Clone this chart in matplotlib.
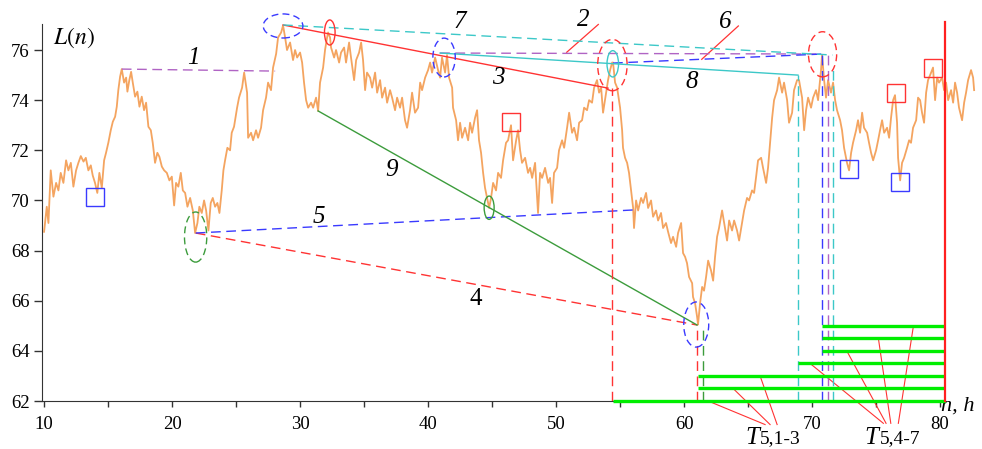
import matplotlib
matplotlib.use("Agg")
import matplotlib.pyplot as plt
from matplotlib.patches import Ellipse

# level L(n), hours n
n_hours = [
    10.0, 10.21, 10.34, 10.52, 10.73, 10.94, 11.12, 11.30, 11.51, 11.72,
    11.90, 12.09, 12.29, 12.50, 12.68, 12.87, 13.08, 13.26, 13.46, 13.65,
    13.80, 13.98, 14.16, 14.32, 14.51, 14.69, 14.84, 15.02, 15.21, 15.37,
    15.55, 15.68, 15.80, 15.94, 16.07, 16.25, 16.41, 16.51, 16.66, 16.80,
    16.93, 17.11, 17.29, 17.45, 17.63, 17.81, 17.97, 18.15, 18.34, 18.49,
    18.67, 18.85, 19.01, 19.20, 19.38, 19.59, 19.79, 19.98, 20.16, 20.31,
    20.49, 20.68, 20.84, 21.02, 21.20, 21.41, 21.62, 21.80, 21.98, 22.13,
    22.32, 22.50, 22.66, 22.84, 23.02, 23.18, 23.36, 23.54, 23.70, 23.88,
    24.01, 24.14, 24.32, 24.53, 24.66, 24.84,
    25.08, 25.23, 25.47, 25.63, 25.86, 25.94, 26.17, 26.33, 26.56, 26.72,
    26.95, 27.11, 27.34, 27.50, 27.73, 27.89, 28.13, 28.28, 28.52, 28.67,
    28.83, 28.98, 29.22, 29.45, 29.61, 29.77, 30.00, 30.16, 30.31, 30.47,
    30.63, 30.86, 31.02, 31.25, 31.41, 31.56, 31.80, 31.95, 32.11,
    32.19, 32.34, 32.42, 32.66, 32.81, 33.05, 33.20, 33.44, 33.59, 33.83,
    33.98, 34.22, 34.38, 34.61, 34.77, 34.92, 35.08, 35.23, 35.47, 35.63,
    35.86, 36.02, 36.25, 36.41, 36.64, 36.80, 37.03, 37.19, 37.42, 37.58,
    37.81, 37.97, 38.20, 38.36, 38.59, 38.75,
    38.98, 39.22, 39.38, 39.53, 39.77, 40.00, 40.16, 40.31, 40.55, 40.78,
    40.94, 41.09, 41.33, 41.48, 41.64, 41.88, 41.95, 42.19, 42.34, 42.50,
    42.66, 42.89, 43.13, 43.28, 43.44, 43.67, 43.83, 43.98, 44.14, 44.30,
    44.45, 44.61, 44.77, 44.92, 45.08, 45.31, 45.47, 45.70, 45.86, 46.09,
    46.25, 46.48, 46.64, 46.88, 47.03, 47.19, 47.34, 47.58, 47.81, 47.97,
    48.13, 48.36, 48.59, 48.75, 48.91, 49.14, 49.38, 49.53, 49.69, 49.84,
    50.08, 50.23, 50.47, 50.63, 50.86, 51.02, 51.25, 51.41, 51.64, 51.80,
    52.03, 52.19, 52.42, 52.58, 52.81, 52.97, 53.20, 53.36, 53.52, 53.67,
    53.91, 54.06, 54.22, 54.38,
    54.45, 54.61, 54.77, 55.00, 55.16, 55.23, 55.39, 55.55, 55.70, 55.86,
    56.02, 56.09, 56.25, 56.41, 56.64, 56.80, 57.03, 57.19, 57.42, 57.58,
    57.81, 57.97, 58.20, 58.36, 58.59, 58.75, 58.98, 59.14, 59.38, 59.53,
    59.77, 59.92, 60.08, 60.23, 60.39, 60.63, 60.70, 60.86, 61.02, 61.09,
    61.25, 61.41, 61.56, 61.72, 61.88, 62.11, 62.27, 62.42, 62.58, 62.73,
    62.97, 63.13, 63.36, 63.52, 63.75, 63.91, 64.14, 64.30, 64.53, 64.69,
    64.92, 65.08, 65.31, 65.47, 65.63, 65.78, 66.02, 66.17, 66.41, 66.56,
    66.72, 66.88, 67.03, 67.27, 67.42, 67.66, 67.81, 68.05, 68.20, 68.44,
    68.59, 68.83,
    68.98, 69.22, 69.38, 69.53, 69.69, 69.92, 70.08, 70.31, 70.47, 70.70,
    70.78, 70.94, 71.09, 71.25, 71.48, 71.64, 71.80, 71.95, 72.19, 72.34,
    72.50, 72.73, 72.89, 73.05, 73.20, 73.44, 73.59, 73.75, 73.91, 74.06,
    74.30, 74.45, 74.61, 74.77, 75.00, 75.16, 75.31, 75.47, 75.63, 75.86,
    76.02, 76.17, 76.33, 76.48, 76.64, 76.72, 76.88, 77.03, 77.19, 77.42,
    77.58, 77.73, 77.89, 78.13, 78.28, 78.44, 78.59, 78.75, 78.91, 79.06,
    79.30, 79.45, 79.61, 79.77, 79.92, 80.16, 80.31, 80.47, 80.63, 80.86,
    81.02, 81.17, 81.33, 81.48, 81.72, 81.88, 82.03, 82.19, 82.42, 82.58,
    82.66,
]
level = [
    68.75, 69.75, 69.1, 71.2, 70.15, 70.7, 70.4, 71.1, 70.7, 71.6,
    71.2, 71.5, 70.55, 71.2, 71.5, 71.77, 71.55, 71.7, 71.2, 71.4,
    71.0, 70.7, 70.3, 71.1, 70.5, 71.6, 71.9, 72.3, 72.8, 73.14,
    73.34, 73.74, 74.4, 74.94, 75.24, 74.7, 74.9, 74.34, 74.8, 75.13,
    74.7, 74.14, 74.34, 73.74, 74.14, 73.6, 73.9, 72.94, 72.8, 72.3,
    71.5, 71.9, 71.74, 71.35, 71.2, 71.1, 70.8, 70.95, 69.8, 70.7,
    70.55, 71.1, 70.4, 70.3, 69.75, 70.1, 69.6, 68.7, 69.1, 69.75,
    69.5, 70.0, 69.6, 68.8, 69.9, 70.1, 69.75, 69.9, 69.5, 70.4,
    71.2, 71.6, 72.1, 72.0, 72.7, 72.94,
    73.7, 74.1, 74.5, 75.1, 74.3, 72.5, 72.7, 72.4, 72.8, 72.5,
    72.9, 73.6, 74.1, 74.7, 74.4, 75.3, 75.85, 76.5, 76.7, 76.98,
    76.5, 76.0, 76.3, 75.6, 76.0, 75.7, 75.9, 75.5, 74.7, 74.0,
    73.7, 73.9, 73.7, 74.1, 73.57, 74.7, 75.3, 76.0, 76.5,
    76.7, 76.5, 76.1, 75.7, 76.0, 75.5, 75.9, 76.1, 75.5, 76.3,
    75.7, 74.8, 75.6, 75.9, 76.3, 75.6, 74.4, 75.1, 74.9, 74.5,
    75.1, 74.3, 74.8, 74.1, 74.5, 73.9, 74.4, 74.1, 73.6, 74.1,
    73.7, 74.1, 73.2, 72.9, 73.6, 74.3,
    73.5, 73.7, 74.7, 74.4, 74.9, 75.2, 75.5, 75.1, 75.7, 75.2,
    74.9, 75.7, 75.1, 75.8, 74.9, 74.5, 73.7, 73.2, 72.4, 73.1,
    72.5, 72.9, 72.4, 73.1, 72.7, 73.3, 73.6, 72.4, 71.9, 71.1,
    70.5, 70.1, 69.7, 70.1, 70.7, 70.4, 71.1, 70.9, 71.6, 72.3,
    72.4, 73.0, 71.6, 72.4, 72.8, 72.0, 71.5, 71.7, 71.1, 71.3,
    70.9, 71.5, 69.5, 71.1, 70.9, 71.3, 70.7, 70.9, 69.9, 71.1,
    71.3, 72.0, 72.4, 72.1, 72.9, 73.5, 72.7, 72.9, 72.4, 73.1,
    73.2, 73.7, 73.6, 74.0, 73.9, 74.5, 74.8, 74.3, 74.5, 73.5,
    74.3, 74.8, 75.2, 75.5,
    75.5, 74.7, 74.5, 73.7, 72.8, 72.1, 71.7, 71.5, 71.1, 70.4,
    69.7, 68.9, 70.0, 69.6, 70.1, 69.9, 70.3, 69.7, 70.0, 69.35,
    69.6, 69.2, 69.5, 68.9, 69.1, 68.75, 68.3, 68.55, 68.15, 68.7,
    69.1, 67.9, 67.75, 67.5, 66.95, 66.7, 66.15, 65.9, 65.35, 65.05,
    65.9, 66.55, 66.4, 66.95, 67.6, 67.2, 66.8, 67.75, 68.55, 68.9,
    69.6, 69.1, 68.4, 69.2, 68.8, 69.2, 68.8, 68.4, 69.1, 69.6,
    70.1, 70.0, 70.4, 70.3, 70.95, 71.6, 71.7, 71.3, 70.7, 71.3,
    72.3, 73.3, 74.0, 74.4, 74.9, 74.3, 74.7, 74.0, 73.1, 73.5,
    74.4, 74.8,
    74.8, 74.1, 72.8, 73.6, 74.1, 73.7, 74.1, 74.4, 74.0, 75.2,
    75.8, 74.8, 74.1, 74.8, 74.3, 74.7, 74.0, 73.6, 73.2, 72.8,
    72.1, 71.5, 71.2, 71.9, 72.3, 72.8, 73.2, 72.7, 73.5, 72.9,
    72.7, 72.3, 71.9, 71.6, 72.0, 72.4, 72.8, 73.2, 72.7, 72.9,
    72.5, 73.3, 74.0, 74.2, 73.1, 71.7, 70.8, 71.5, 71.7, 72.1,
    72.4, 72.3, 72.9, 73.2, 74.1, 74.0, 73.5, 73.1, 74.3, 74.8,
    75.1, 75.3, 74.0, 74.9, 74.7, 74.9, 74.4, 74.7, 74.0, 74.4,
    73.9, 74.7, 74.3, 73.7, 73.2, 73.9, 74.3, 74.8, 75.2, 74.9,
    74.4,
]

# trend lines 1..9 between extremes
line_ids = ["1", "2", "3", "4", "5", "6", "7", "8", "9"]
line_n0 = [16.07, 40.94, 28.67, 21.85, 21.85, 54.45, 28.67, 40.94, 31.41]
line_L0 = [75.24, 75.88, 77.00, 68.70, 68.70, 75.48, 77.00, 75.88, 73.57]
line_n1 = [28.05, 70.78, 54.06, 61.02, 56.02, 70.78, 71.60, 68.90, 61.02]
line_L1 = [75.16, 75.84, 74.48, 65.03, 69.62, 75.84, 75.80, 75.00, 65.03]

# drop lines from the end points down to the axis
drop_n = [54.38, 61.02, 61.48, 68.90, 70.78, 71.25, 71.64]
drop_top = [74.48, 65.03, 64.87, 75.00, 75.84, 75.84, 75.40]

# T5 intervals
horizon_n = 80.4
bar_level = [62.0, 62.5, 63.0, 63.5, 64.0, 64.5, 65.0]
bar_start = [54.45, 61.10, 61.10, 68.90, 70.80, 70.80, 70.80]

# marked extremes
ell_n = [28.67, 32.32, 41.25, 44.77, 21.84, 54.40, 54.43, 60.95, 70.82]
ell_L = [76.96, 76.70, 75.70, 69.71, 68.54, 75.40, 75.45, 65.05, 75.83]
ell_w = [3.1, 0.83, 1.75, 0.78, 1.74, 2.3, 0.9, 1.95, 2.2]
ell_h = [0.96, 1.0, 1.55, 0.93, 2.0, 2.05, 1.05, 1.8, 1.8]

low_box_n = [13.98, 72.89, 76.85]
low_box_L = [70.15, 71.24, 70.73]
high_box_n = [46.48, 76.54, 79.48]
high_box_L = [73.12, 74.27, 75.30]

ORANGE = "#f4a460"
RED = "#ff3333"
BLUE = "#3a3aff"
CYAN = "#3cc8c8"
PURPLE = "#b064c4"
GREEN = "#3c9c3c"
LIME = "#00ee00"
DASH = (7, 4)

plt.rcParams["font.family"] = "Liberation Serif"
plt.rcParams["mathtext.fontset"] = "stix"

fig = plt.figure(figsize=(9.82, 4.49), dpi=100)
ax = fig.add_axes([0.0428, 0.1069, 0.951, 0.8403])

ax.plot(n_hours, level, color=ORANGE, lw=1.3, zorder=2)

line_style = {
    "1": (PURPLE, DASH), "2": (PURPLE, DASH), "3": (RED, None),
    "4": (RED, DASH), "5": (BLUE, DASH), "6": (BLUE, DASH),
    "7": (CYAN, DASH), "8": (CYAN, None), "9": (GREEN, None),
}
for i, lid in enumerate(line_ids):
    col, dsh = line_style[lid]
    ln, = ax.plot([line_n0[i], line_n1[i]], [line_L0[i], line_L1[i]],
                  color=col, lw=1.0, zorder=3, clip_on=False)
    if dsh:
        ln.set_dashes(dsh)

drop_colors = [RED, RED, GREEN, CYAN, BLUE, PURPLE, CYAN]
for x, top, col in zip(drop_n, drop_top, drop_colors):
    ax.plot([x, x], [62.0, top], color=col, lw=1.0, dashes=DASH, zorder=3)

for lv, st in zip(bar_level, bar_start):
    ax.plot([st, horizon_n], [lv, lv], color=LIME, lw=2.4, zorder=4,
            solid_capstyle="butt", clip_on=False)
ax.plot([horizon_n, horizon_n], [62.0, 77.1], color="#ff2020", lw=1.6,
        zorder=4, clip_on=False)

ell_colors = [BLUE, RED, BLUE, GREEN, GREEN, RED, CYAN, BLUE, RED]
ell_dashed = [True, False, True, False, True, True, False, True, True]
for x, y, w, h, col, dd in zip(ell_n, ell_L, ell_w, ell_h, ell_colors, ell_dashed):
    e = Ellipse((x, y), w, h, fill=False, edgecolor=col, lw=1.0,
                linestyle=(0, (5, 3)) if dd else "-", zorder=5, clip_on=False)
    ax.add_patch(e)

ax.plot(low_box_n, low_box_L, ls="none", marker="s", ms=12.5, mfc="none",
        mec=BLUE, mew=1.0, zorder=5)
ax.plot(high_box_n, high_box_L, ls="none", marker="s", ms=12.5, mfc="none",
        mec=RED, mew=1.0, zorder=5)

# numbers of the trend lines
label_pos = {
    "1": (21.67, 75.67), "2": (52.13, 77.2), "3": (45.45, 74.87),
    "4": (43.75, 66.05), "5": (31.43, 69.35), "6": (63.2, 77.1),
    "7": (42.5, 77.13), "8": (60.6, 74.74), "9": (37.16, 71.21),
}
for lid, (x, y) in label_pos.items():
    ax.text(x, y, lid, fontsize=18, ha="center", va="center",
            style="normal" if lid == "4" else "italic")

# red pointers to 2 and 6
ax.plot([53.3, 50.83], [77.02, 75.91], color=RED, lw=0.9, clip_on=False)
ax.plot([64.24, 61.38], [76.96, 75.63], color=RED, lw=0.9, clip_on=False)

# pointers from T labels to the bars
t13_to_n = [61.88, 63.83, 65.94]
t13_to_L = [62.0, 62.5, 63.0]
t13_from_n = [66.33, 66.72, 67.27]
for a, b, c in zip(t13_from_n, t13_to_n, t13_to_L):
    ax.plot([a, b], [61.06, c], color=RED, lw=0.8, clip_on=False)
t47_to_n = [69.84, 72.71, 75.18, 77.92]
t47_to_L = [63.5, 64.0, 64.5, 65.0]
t47_from_n = [75.57, 75.78, 76.15, 76.74]
for a, b, c in zip(t47_from_n, t47_to_n, t47_to_L):
    ax.plot([a, b], [61.11, c], color=RED, lw=0.8, clip_on=False)

ax.text(65.85, 60.3, "T", fontsize=18, style="italic", ha="right", va="baseline")
ax.text(65.95, 60.32, "5,1-3", fontsize=14, ha="left", va="baseline")
ax.text(75.2, 60.3, "T", fontsize=18, style="italic", ha="right", va="baseline")
ax.text(75.3, 60.32, "5,4-7", fontsize=14, ha="left", va="baseline")

ax.text(12.3, 76.5, r"$L(n)$", fontsize=17, ha="center", va="center")
ax.text(82.7, 61.78, "n, h", fontsize=16, style="italic", ha="right",
        va="center")

ax.set_xlim(9.84, 82.8)
ax.set_ylim(62, 77.05)
ax.spines["top"].set_visible(False)
ax.spines["right"].set_visible(False)
ax.spines["bottom"].set_bounds(9.84, 80.45)
for s in ("left", "bottom"):
    ax.spines[s].set_color("#333333")
ax.set_xticks(range(10, 81, 10))
ax.set_xticks(range(15, 80, 10), minor=True)
ax.set_yticks(range(62, 77, 2))
ax.tick_params(axis="both", which="both", direction="out", width=1,
               color="#333333", labelsize=13.5)
ax.tick_params(axis="x", which="both", length=4, pad=7)
ax.tick_params(axis="y", length=6, pad=3)

fig.savefig("out.png", dpi=100)
